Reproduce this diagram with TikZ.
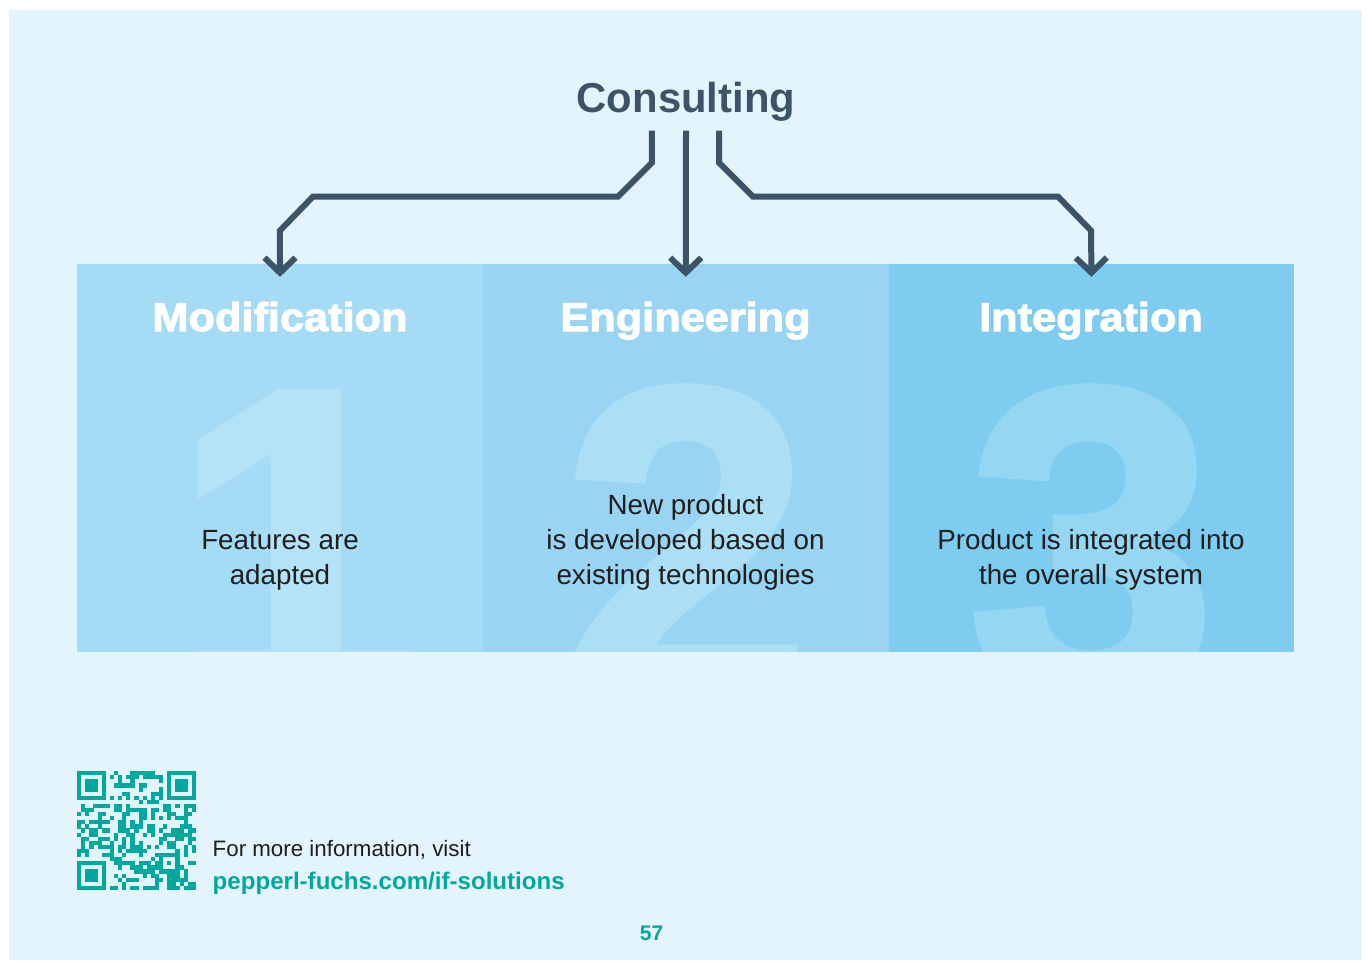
\documentclass[tikz,border=0pt]{standalone}
\usepackage{fontspec}
\setmainfont{Liberation Sans}
\newfontfamily\heavyfont{Liberation Sans Bold}[FakeBold=2.5, FakeStretch=1.08]
\newfontfamily\digitfont{Liberation Sans Bold}[FakeBold=2]
\usepackage{tikz}
\usetikzlibrary{arrows.meta, positioning}
\definecolor{pfpage}{HTML}{E3F4FD}
\definecolor{pfpanelA}{HTML}{A6DBF5}
\definecolor{pfpanelB}{HTML}{99D5F2}
\definecolor{pfpanelC}{HTML}{7ECDF0}
\definecolor{pfnumA}{HTML}{B4E2F6}
\definecolor{pfnumB}{HTML}{ABDFF5}
\definecolor{pfnumC}{HTML}{95D6F3}
\definecolor{pfdark}{HTML}{3D5468}
\definecolor{pfteal}{HTML}{00A99D}
\definecolor{pftext}{HTML}{1E1E1E}

\begin{document}
\begin{tikzpicture}[
    x=0.01cm, y=-0.01cm,
    panel/.style={
        rectangle, inner sep=0pt, outer sep=0pt,
        minimum width=4.055cm, minimum height=3.88cm
    },
    head/.style={
        font=\heavyfont\fontsize{11.4}{12}\selectfont, text=white,
        inner sep=0pt, anchor=base
    },
    bignum/.style={
        font=\digitfont\fontsize{127}{127}\selectfont,
        inner sep=0pt, anchor=north
    },
    body/.style={
        font=\fontsize{7.9}{10}\selectfont, text=pftext,
        align=center, inner sep=0pt, anchor=south
    },
    arr/.style={-{Straight Barb[length=1.5mm, width=3.1mm]}, line width=0.06cm, draw=pfdark}
]

\useasboundingbox (0,0) rectangle (1367,960);
\fill[white] (0,0) rectangle (1367,960);
\fill[pfpage] (9,10) rectangle (1362,960);

\node[font=\bfseries\fontsize{11.9}{13}\selectfont, text=pfdark, inner sep=0pt, anchor=base] (cons) at (686,112) {Consulting};

\node[panel, fill=pfpanelA] (modpanel) at (280,458) {};
\node[panel, fill=pfpanelB, right=0pt of modpanel] (engpanel) {};
\node[panel, fill=pfpanelC, right=0pt of engpanel] (intpanel) {};

\begin{scope}
\clip (modpanel.north west) rectangle ([yshift=0.01cm]intpanel.south east);
\node[bignum, text=pfnumA] (numA) at (295,393) {1};
\node[bignum, text=pfnumB] (numB) at (686,387) {2};
\node[bignum, text=pfnumC] (numC) at (1092,387) {3};
\end{scope}

\node[head] (modhead) at (280,331) {Modification};
\node[head] (enghead) at (685.5,331) {Engineering};
\node[head] (inthead) at (1091,331) {Integration};

\node[body] (modtext) at (280,591) {Features are\\adapted};
\node[body] (engtext) at (685.5,591) {New product\\is developed based on\\existing technologies};
\node[body] (inttext) at (1091,591) {Product is integrated into\\the overall system};

\draw[arr] ([xshift=-0.34cm, yshift=-0.09cm]cons.south) -- ++(0,32) -- ++(-34,34)
    -- ++(-305,0) -- ++(-33,34) -- ([yshift=-0.13cm]modpanel.north);
\draw[arr] ([yshift=-0.09cm]cons.south) -- ([yshift=-0.13cm]engpanel.north);
\draw[arr] ([xshift=0.33cm, yshift=-0.09cm]cons.south) -- ++(0,32) -- ++(34,34)
    -- ++(305,0) -- ++(33,34) -- ([yshift=-0.13cm]intpanel.north);

% QR code
\begin{scope}[shift={(77,771)}, x=0.041cm, y=-0.041cm]
\foreach \qc/\qr in {0/0, 22/0, 0/22}{
    \fill[pfteal] (\qc,\qr) rectangle ++(7,7);
    \fill[pfpage] (\qc+1,\qr+1) rectangle ++(5,5);
    \fill[pfteal] (\qc+2,\qr+2) rectangle ++(3,3);
}
\fill[pfteal] (20,20) rectangle ++(5,5);
\fill[pfpage] (21,21) rectangle ++(3,3);
\fill[pfteal] (22,22) rectangle ++(1,1);
\pgfmathsetseed{57}
\foreach \qr in {0,...,28}{
    \foreach \qc in {0,...,28}{
        \pgfmathtruncatemacro{\qf}{and(\qr<8,\qc<8) + and(\qr<8,\qc>20) + and(\qr>20,\qc<8) + and(and(\qr>19,\qr<25),and(\qc>19,\qc<25))}
        \ifnum\qf=0
            \pgfmathtruncatemacro{\qt}{or(\qr==6,\qc==6)}
            \ifnum\qt=1
                \pgfmathtruncatemacro{\qon}{mod(\qr+\qc,2)==0}
            \else
                \pgfmathtruncatemacro{\qon}{rnd<0.47}
            \fi
            \ifnum\qon=1
                \fill[pfteal] (\qc,\qr) rectangle ++(1.03,1.03);
            \fi
        \fi
    }
}
\end{scope}

\node[anchor=base west, font=\fontsize{6.35}{8}\selectfont, text=pftext, inner sep=0pt] (info) at (212,856) {For more information, visit};
\node[anchor=base west, font=\bfseries\fontsize{6.85}{8}\selectfont, text=pfteal, inner sep=0pt] (link) at (212,889) {pepperl-fuchs.com/if-solutions};
\node[anchor=base, font=\bfseries\fontsize{6}{7}\selectfont, text=pfteal, inner sep=0pt] (pageno) at (651.5,940) {57};

\end{tikzpicture}
\end{document}
